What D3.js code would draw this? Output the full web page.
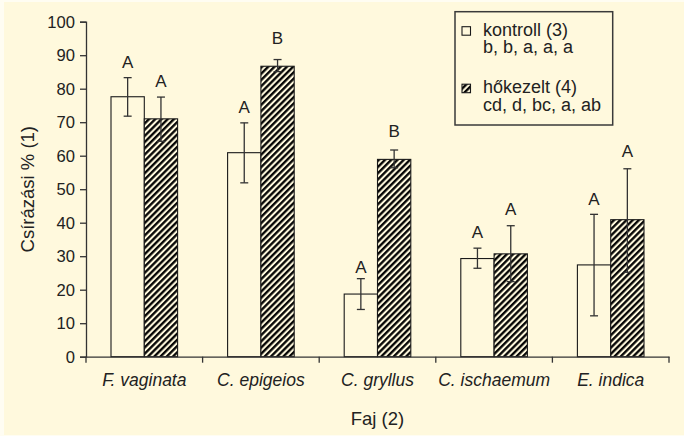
<!DOCTYPE html>
<html>
<head>
<meta charset="utf-8">
<script src="https://cdn.jsdelivr.net/npm/d3@7"></script>
<style>
  body { margin: 0; background: #fffdf2; }
  svg { display: block; font-family: "Liberation Sans", Arial, sans-serif; }
</style>
</head>
<body>
<script>
// adatok
const species = ['F. vaginata', 'C. epigeios', 'C. gryllus', 'C. ischaemum', 'E. indica'];
const groups = ['kontroll', 'hőkezelt'];
const kontroll = [77.6, 60.9, 18.7, 29.3, 27.4];
const kontrollHi = [83.3, 69.8, 23.3, 32.4, 42.5];
const kontrollLo = [71.8, 51.9, 14.1, 26.4, 12.2];
const hokezelt = [71.0, 86.7, 58.9, 30.7, 40.9];
const hokezeltHi = [77.5, 88.7, 61.7, 39.1, 56.1];
const hokezeltLo = [64.3, 85.1, 56.4, 22.4, 25.2];
const kontrollLetters = ['A', 'A', 'A', 'A', 'A'];
const hokezeltLetters = ['A', 'B', 'B', 'A', 'A'];
const kontrollLetterAt = [86.1, 72.8, 25.1, 35.3, 45.3];
const hokezeltLetterAt = [80.4, 93.3, 65.7, 42.3, 59.5];
const yTicks = [0, 10, 20, 30, 40, 50, 60, 70, 80, 90, 100];
const legendLines = [
  ['kontroll (3)', 'b, b, a, a, a'],
  ['hőkezelt (4)', 'cd, d, bc, a, ab']
];

const width = 684, height = 436;
const margin = {top: 21.7, right: 15, bottom: 79.3, left: 86};
const bg = '#fff9dd', ink = '#222';

const rows = species.map((s, i) => ({
  species: s,
  bars: [
    {group: 'kontroll', value: kontroll[i], hi: kontrollHi[i], lo: kontrollLo[i], letter: kontrollLetters[i], at: kontrollLetterAt[i]},
    {group: 'hőkezelt', value: hokezelt[i], hi: hokezeltHi[i], lo: hokezeltLo[i], letter: hokezeltLetters[i], at: hokezeltLetterAt[i]}
  ]
}));

const svg = d3.select('body').append('svg')
  .attr('width', width)
  .attr('height', height);

svg.append('rect')
  .attr('x', 4).attr('y', 2)
  .attr('width', width - 4).attr('height', height - 3)
  .attr('fill', bg);

// sraffozás
const pat = svg.append('defs').append('pattern')
  .attr('id', 'hatch')
  .attr('patternUnits', 'userSpaceOnUse')
  .attr('width', 4.4).attr('height', 4.4)
  .attr('patternTransform', 'rotate(45)');
pat.append('rect').attr('width', 4.4).attr('height', 4.4).attr('fill', bg);
pat.append('line')
  .attr('x1', 1.2).attr('y1', 0).attr('x2', 1.2).attr('y2', 4.4)
  .attr('stroke', '#000').attr('stroke-width', 2.3);

const x = d3.scaleBand()
  .domain(species)
  .range([margin.left, width - margin.right]);
const xInner = d3.scaleBand()
  .domain(groups)
  .range([25, x.bandwidth() - 25]);
const y = d3.scaleLinear()
  .domain([0, 100])
  .range([height - margin.bottom, margin.top]);

const g = svg.append('g');

const cat = g.selectAll('.cat')
  .data(rows)
  .enter().append('g')
  .attr('class', 'cat')
  .attr('transform', d => 'translate(' + x(d.species) + ',0)');

const bar = cat.selectAll('.bar')
  .data(d => d.bars)
  .enter().append('g')
  .attr('class', 'bar');

bar.append('rect')
  .attr('x', d => xInner(d.group))
  .attr('y', d => y(d.value))
  .attr('width', xInner.bandwidth())
  .attr('height', d => y(0) - y(d.value))
  .attr('fill', d => d.group === 'kontroll' ? bg : 'url(#hatch)')
  .attr('stroke', '#1a1a1a')
  .attr('stroke-width', 1.1);

// hibasávok
const cx = d => xInner(d.group) + xInner.bandwidth() / 2;
bar.append('line')
  .attr('x1', cx).attr('x2', cx)
  .attr('y1', d => y(d.hi)).attr('y2', d => y(d.lo))
  .attr('stroke', '#333').attr('stroke-width', 1.3);
bar.selectAll('.cap')
  .data(d => [d, d].map((e, k) => ({d: e, v: k ? e.lo : e.hi})))
  .enter().append('line')
  .attr('x1', e => cx(e.d) - 4).attr('x2', e => cx(e.d) + 4)
  .attr('y1', e => y(e.v)).attr('y2', e => y(e.v))
  .attr('stroke', '#333').attr('stroke-width', 1.3);

bar.append('text')
  .attr('x', cx)
  .attr('y', d => y(d.at))
  .attr('text-anchor', 'middle')
  .attr('font-size', 17)
  .attr('fill', ink)
  .text(d => d.letter);

// tengelyek
const yAxis = g.append('g')
  .attr('transform', 'translate(' + margin.left + ',0)')
  .call(d3.axisLeft(y).tickValues(yTicks).tickSize(6).tickPadding(5));
yAxis.selectAll('text').attr('font-size', 16.6).attr('fill', ink).attr('font-family', null);
yAxis.selectAll('line, path').attr('stroke', '#333').attr('stroke-width', 1.3);

const xAxis = g.append('g')
  .attr('transform', 'translate(0,' + y(0) + ')')
  .call(d3.axisBottom(x).tickSize(0).tickPadding(17));
xAxis.select('.domain').attr('stroke', '#333').attr('stroke-width', 1.3);
xAxis.selectAll('text')
  .attr('font-size', 17.5).attr('font-style', 'italic').attr('fill', ink).attr('font-family', null);
xAxis.selectAll('.bound')
  .data(species.map(s => x(s)).concat([x.range()[1]]))
  .enter().append('line')
  .attr('x1', d => d).attr('x2', d => d)
  .attr('y1', 0).attr('y2', 6)
  .attr('stroke', '#333').attr('stroke-width', 1.3);

svg.append('text')
  .attr('x', (x.range()[0] + x.range()[1]) / 2)
  .attr('y', 424.5)
  .attr('text-anchor', 'middle')
  .attr('font-size', 18.5)
  .attr('fill', ink)
  .text('Faj (2)');

svg.append('text')
  .attr('transform', 'translate(33.5,' + (y(50)) + ') rotate(-90)')
  .attr('text-anchor', 'middle')
  .attr('font-size', 18.5)
  .attr('fill', ink)
  .text('Csírázási % (1)');

// jelmagyarázat
const lg = svg.append('g').attr('transform', 'translate(455,11.7)');
lg.append('rect')
  .attr('width', 157.7).attr('height', 113.3)
  .attr('fill', bg).attr('stroke', '#3a3a3a').attr('stroke-width', 1.5);
const item = lg.selectAll('.item')
  .data(groups)
  .enter().append('g')
  .attr('transform', (d, i) => 'translate(0,' + (i * 57.5) + ')');
item.append('rect')
  .attr('x', 7).attr('y', 15)
  .attr('width', 8.5).attr('height', 8.5)
  .attr('fill', d => d === 'kontroll' ? bg : 'url(#hatch)')
  .attr('stroke', '#1a1a1a').attr('stroke-width', 1.1);
item.selectAll('text')
  .data((d, i) => legendLines[i])
  .enter().append('text')
  .attr('x', 28)
  .attr('y', (d, k) => 24 + k * 17.5)
  .attr('font-size', 18)
  .attr('fill', ink)
  .text(d => d);
</script>
</body>
</html>
